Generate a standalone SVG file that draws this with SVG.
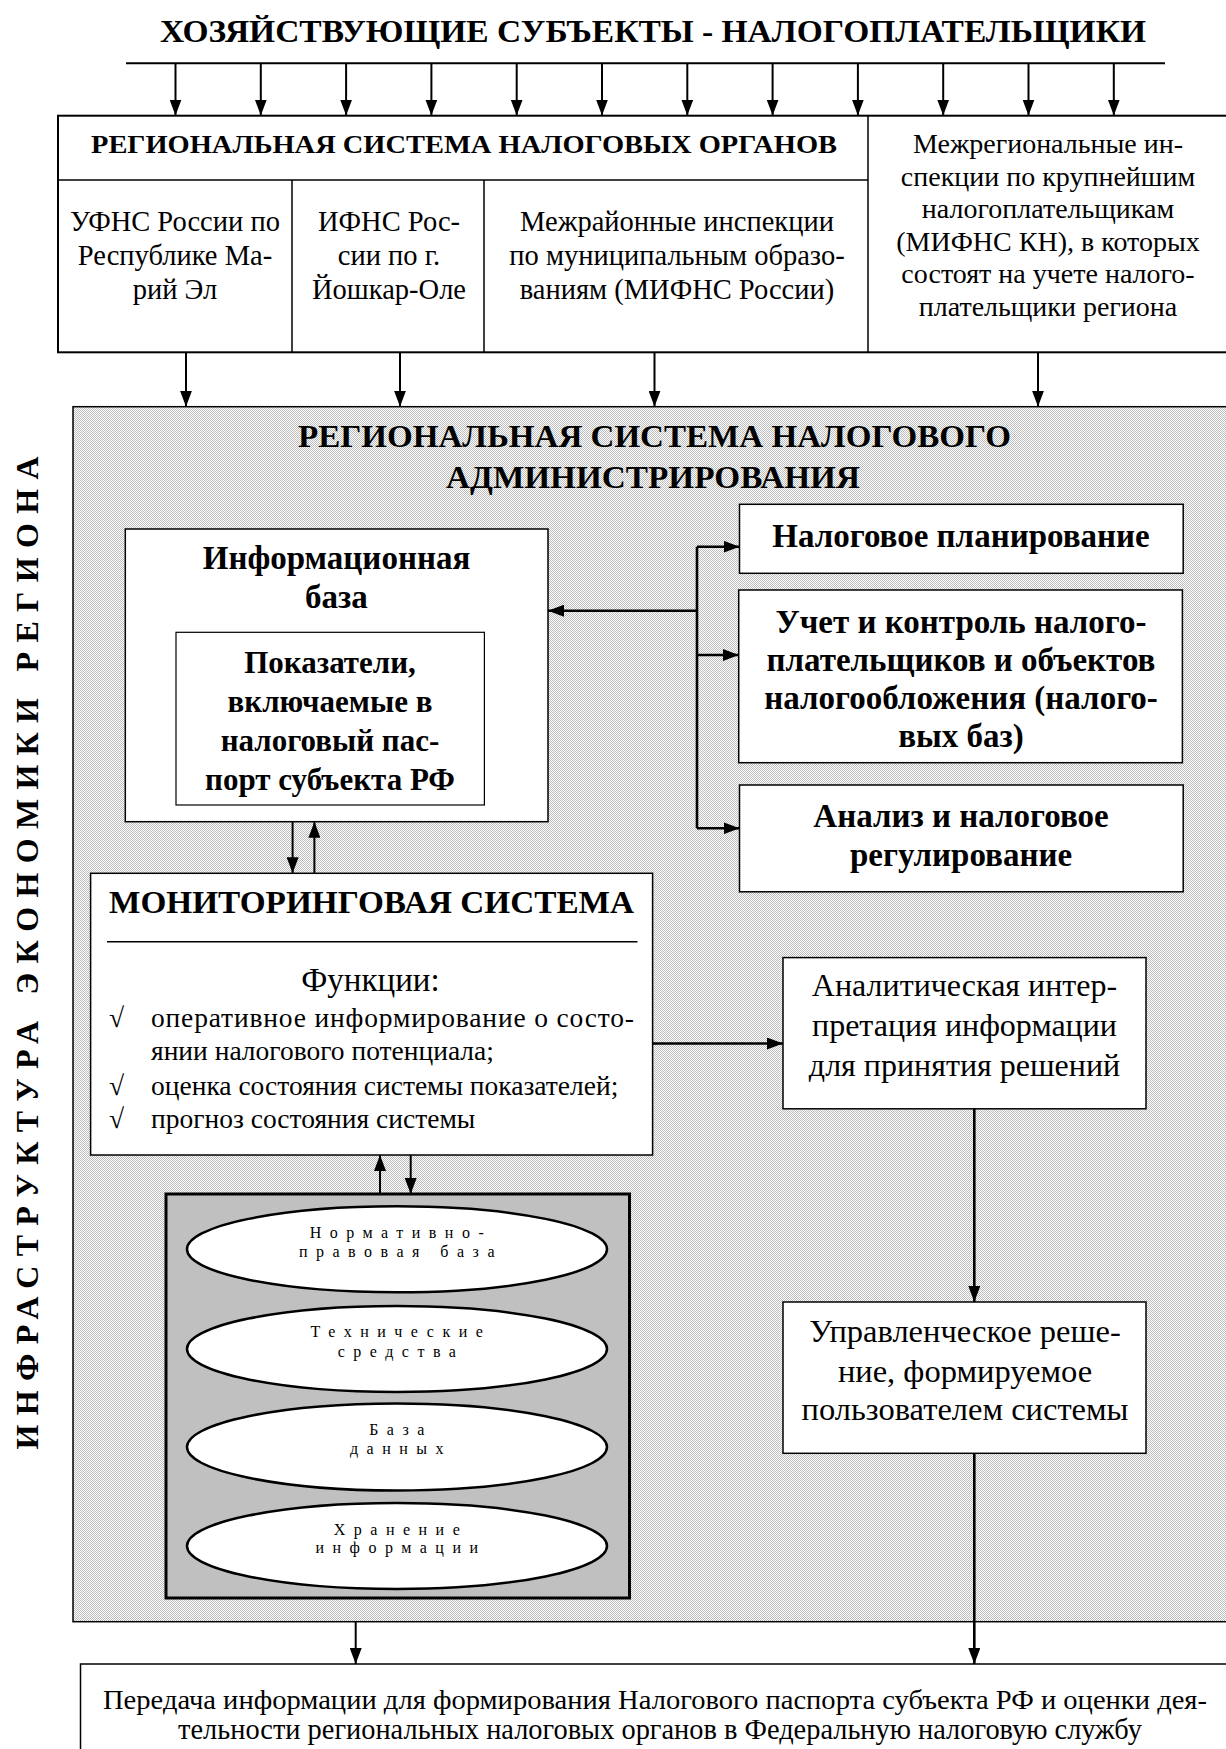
<svg xmlns="http://www.w3.org/2000/svg" width="1226" height="1749" viewBox="0 0 1226 1749">
<defs>
<pattern id="dots" width="2" height="2" patternUnits="userSpaceOnUse"><rect width="2" height="2" fill="#ffffff"/><rect width="1" height="1" fill="#bcbcbc"/><rect x="1" y="1" width="1" height="1" fill="#bcbcbc"/></pattern>
<marker id="ah" markerUnits="userSpaceOnUse" markerWidth="16" markerHeight="12" refX="16" refY="6" orient="auto"><path d="M0,0 L16,6 L0,12 z" fill="#000"/></marker>
</defs>
<style>
.t{font-family:"Liberation Serif","Times New Roman",serif;fill:#000}
.b{font-weight:bold}
.box{fill:#fff;stroke:#000;stroke-width:1.5}
.c{stroke:#000;stroke-width:2;fill:none}
.ca{stroke:#000;stroke-width:2;fill:none;marker-end:url(#ah)}
.cb{stroke:#000;stroke-width:2.6;fill:none}
.cba{stroke:#000;stroke-width:2.6;fill:none;marker-end:url(#ah)}
.ell{fill:#fff;stroke:#000;stroke-width:2.5}
.sp{font-size:16px;letter-spacing:8.5px}
</style>
<rect width="1226" height="1749" fill="#fff"/>

<g id="title">
<text class="t b" x="653" y="42" text-anchor="middle" font-size="31" textLength="986" lengthAdjust="spacingAndGlyphs">ХОЗЯЙСТВУЮЩИЕ СУБЪЕКТЫ - НАЛОГОПЛАТЕЛЬЩИКИ</text>
</g>

<g id="infra-label">
<text class="t b" transform="translate(27,953) rotate(-90)" x="0" y="11" text-anchor="middle" font-size="32" textLength="993" lengthAdjust="spacing">ИНФРАСТРУКТУРА ЭКОНОМИКИ РЕГИОНА</text>
</g>

<g id="regional-tax-organs">
<rect x="58" y="115.7" width="1175" height="236.6" fill="#fff" stroke="#000" stroke-width="2"/>
<line x1="58" y1="180" x2="868" y2="180" stroke="#000" stroke-width="1.5"/>
<line x1="292" y1="180" x2="292" y2="352" stroke="#000" stroke-width="1.5"/>
<line x1="484" y1="180" x2="484" y2="352" stroke="#000" stroke-width="1.5"/>
<line x1="868" y1="115.7" x2="868" y2="352" stroke="#000" stroke-width="1.5"/>
<text class="t b" x="464" y="152.7" text-anchor="middle" font-size="26" textLength="746" lengthAdjust="spacingAndGlyphs">РЕГИОНАЛЬНАЯ СИСТЕМА НАЛОГОВЫХ ОРГАНОВ</text>
</g>

<g id="ufns">
<text class="t" text-anchor="middle" font-size="28.5"><tspan x="175" y="231">УФНС России по</tspan><tspan x="175" y="265">Республике Ма-</tspan><tspan x="175" y="299">рий Эл</tspan></text>
</g>
<g id="ifns">
<text class="t" text-anchor="middle" font-size="28.5"><tspan x="389" y="231">ИФНС Рос-</tspan><tspan x="389" y="265">сии по г.</tspan><tspan x="389" y="299">Йошкар-Оле</tspan></text>
</g>
<g id="mifns">
<text class="t" text-anchor="middle" font-size="28.5"><tspan x="677" y="231">Межрайонные инспекции</tspan><tspan x="677" y="265">по муниципальным образо-</tspan><tspan x="677" y="299">ваниям (МИФНС России)</tspan></text>
</g>
<g id="mifns-kn">
<text class="t" text-anchor="middle" font-size="28"><tspan x="1048" y="153">Межрегиональные ин-</tspan><tspan x="1048" y="185.5">спекции по крупнейшим</tspan><tspan x="1048" y="218">налогоплательщикам</tspan><tspan x="1048" y="250.5">(МИФНС КН), в которых</tspan><tspan x="1048" y="283">состоят на учете налого-</tspan><tspan x="1048" y="315.5">плательщики региона</tspan></text>
</g>

<g id="regional-admin">
<rect x="73" y="406.7" width="1160" height="1215" fill="url(#dots)" stroke="#000" stroke-width="1.5"/>
<text class="t b" x="654.5" y="446.7" text-anchor="middle" font-size="31" textLength="713" lengthAdjust="spacingAndGlyphs">РЕГИОНАЛЬНАЯ СИСТЕМА НАЛОГОВОГО</text>
<text class="t b" x="653" y="488.3" text-anchor="middle" font-size="31" textLength="414" lengthAdjust="spacingAndGlyphs">АДМИНИСТРИРОВАНИЯ</text>
</g>

<g id="info-base">
<rect class="box" x="125.3" y="529" width="422.7" height="292.7"/>
<text class="t b" text-anchor="middle" font-size="33"><tspan x="336.5" y="569">Информационная</tspan><tspan x="336.5" y="608">база</tspan></text>
</g>
<g id="indicators">
<rect x="176" y="632.3" width="308.4" height="172.7" fill="#fff" stroke="#000" stroke-width="1.2"/>
<text class="t b" text-anchor="middle" font-size="31"><tspan x="330" y="673">Показатели,</tspan><tspan x="330" y="712">включаемые в</tspan><tspan x="330" y="751">налоговый пас-</tspan><tspan x="330" y="790">порт субъекта РФ</tspan></text>
</g>

<g id="tax-planning">
<rect class="box" x="739.5" y="504.3" width="443.7" height="69"/>
<text class="t b" x="961" y="547" text-anchor="middle" font-size="33">Налоговое планирование</text>
</g>
<g id="accounting">
<rect class="box" x="738.7" y="590" width="443.7" height="172.7"/>
<text class="t b" text-anchor="middle" font-size="33"><tspan x="961" y="633">Учет и контроль налого-</tspan><tspan x="961" y="671">плательщиков и объектов</tspan><tspan x="961" y="709">налогообложения (налого-</tspan><tspan x="961" y="747">вых баз)</tspan></text>
</g>
<g id="analysis">
<rect class="box" x="739.5" y="785" width="443.7" height="106.8"/>
<text class="t b" text-anchor="middle" font-size="33"><tspan x="961" y="827">Анализ и налоговое</tspan><tspan x="961" y="866">регулирование</tspan></text>
</g>

<g id="monitoring">
<rect class="box" x="90.6" y="873.3" width="562" height="281.7"/>
<text class="t b" x="371.5" y="913.3" text-anchor="middle" font-size="31" textLength="525" lengthAdjust="spacingAndGlyphs">МОНИТОРИНГОВАЯ СИСТЕМА</text>
<line x1="107" y1="941.7" x2="637.5" y2="941.7" stroke="#000" stroke-width="1.5"/>
<text class="t" x="370.5" y="991" text-anchor="middle" font-size="33">Функции:</text>
<text class="t" font-size="27.5"><tspan x="109" y="1026.7">√</tspan><tspan x="109" y="1095">√</tspan><tspan x="109" y="1128">√</tspan></text>
<text class="t" x="151" y="1026.7" font-size="27.5" textLength="483" lengthAdjust="spacing">оперативное информирование о состо-</text>
<text class="t" font-size="27.5"><tspan x="151" y="1060">янии налогового потенциала;</tspan><tspan x="151" y="1095">оценка состояния системы показателей;</tspan><tspan x="151" y="1128">прогноз состояния системы</tspan></text>
</g>

<g id="analytic-interpretation">
<rect class="box" x="783" y="957.6" width="363" height="151.2"/>
<text class="t" text-anchor="middle" font-size="32"><tspan x="964.5" y="996">Аналитическая интер-</tspan><tspan x="964.5" y="1036">претация информации</tspan><tspan x="964.5" y="1076">для принятия решений</tspan></text>
</g>
<g id="management-decision">
<rect class="box" x="783" y="1302" width="363" height="151.3"/>
<text class="t" text-anchor="middle" font-size="32.5"><tspan x="965" y="1341.7">Управленческое реше-</tspan><tspan x="965" y="1381.7">ние, формируемое</tspan><tspan x="965" y="1420">пользователем системы</tspan></text>
</g>

<g id="infrastructure-block">
<rect x="166" y="1194" width="463.5" height="404" fill="#c0c0c0" stroke="#000" stroke-width="3"/>
</g>
<g id="normative-base">
<ellipse class="ell" cx="397" cy="1249.3" rx="210" ry="43"/>
<text class="t sp" text-anchor="middle"><tspan x="401" y="1238">Нормативно-</tspan><tspan x="401" y="1257">правовая база</tspan></text>
</g>
<g id="technical-means">
<ellipse class="ell" cx="397" cy="1349" rx="210" ry="43"/>
<text class="t sp" text-anchor="middle"><tspan x="401" y="1337">Технические</tspan><tspan x="401" y="1356.7">средства</tspan></text>
</g>
<g id="database">
<ellipse class="ell" cx="397" cy="1447" rx="210" ry="43.5"/>
<text class="t sp" text-anchor="middle"><tspan x="401" y="1435">База</tspan><tspan x="401" y="1454">данных</tspan></text>
</g>
<g id="storage">
<ellipse class="ell" cx="397" cy="1546" rx="210" ry="43"/>
<text class="t sp" text-anchor="middle"><tspan x="401" y="1535">Хранение</tspan><tspan x="401" y="1553">информации</tspan></text>
</g>

<g id="transfer">
<rect x="80.5" y="1664" width="1160" height="100" fill="#fff" stroke="#000" stroke-width="1.5"/>
<text class="t" x="655" y="1709" text-anchor="middle" font-size="28" textLength="1104" lengthAdjust="spacingAndGlyphs">Передача информации для формирования Налогового паспорта субъекта РФ и оценки дея-</text>
<text class="t" x="660" y="1739" text-anchor="middle" font-size="28.4">тельности региональных налоговых органов в Федеральную налоговую службу</text>
</g>

<g id="connectors">
<path class="c" d="M126,63.3 H1165"/>
<path class="ca" d="M175.5,63.3 V115.5"/>
<path class="ca" d="M260.8,63.3 V115.5"/>
<path class="ca" d="M346.1,63.3 V115.5"/>
<path class="ca" d="M431.4,63.3 V115.5"/>
<path class="ca" d="M516.7,63.3 V115.5"/>
<path class="ca" d="M602,63.3 V115.5"/>
<path class="ca" d="M687.3,63.3 V115.5"/>
<path class="ca" d="M772.6,63.3 V115.5"/>
<path class="ca" d="M857.9,63.3 V115.5"/>
<path class="ca" d="M943.2,63.3 V115.5"/>
<path class="ca" d="M1028.5,63.3 V115.5"/>
<path class="ca" d="M1113.8,63.3 V115.5"/>
<path class="ca" d="M186,352.3 V406.7"/>
<path class="ca" d="M400,352.3 V406.7"/>
<path class="ca" d="M654.5,352.3 V406.7"/>
<path class="ca" d="M1038,352.3 V406.7"/>
<path class="cba" d="M697,610.7 H548"/>
<path class="cb" d="M697,546.7 V828.3"/>
<path class="cba" d="M697,546.7 H739.5"/>
<path class="cba" d="M697,655 H738.7"/>
<path class="cba" d="M697,828.3 H739.5"/>
<path class="ca" d="M292.6,821.7 V873.3"/>
<path class="ca" d="M314.4,873.3 V821.7"/>
<path class="cba" d="M652.6,1043.5 H783"/>
<path class="ca" d="M380,1194 V1155"/>
<path class="ca" d="M410.7,1155 V1194"/>
<path class="cba" d="M974.3,1108.8 V1302"/>
<path class="cba" d="M974.3,1453.3 V1664"/>
<path class="ca" d="M355.7,1621.7 V1664"/>
</g>
</svg>
